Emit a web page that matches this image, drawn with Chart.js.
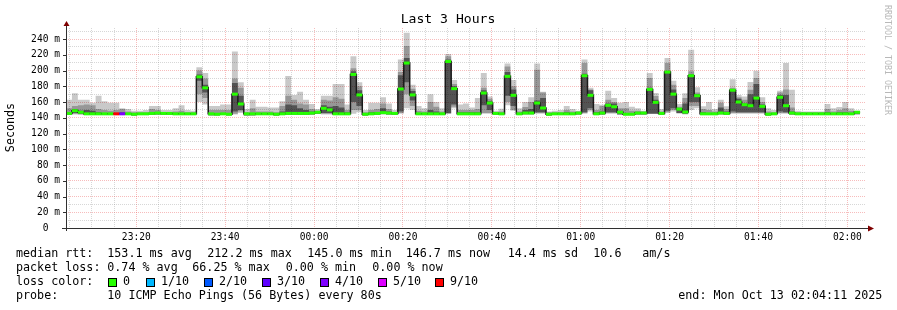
<!DOCTYPE html>
<html>
<head>
<meta charset="utf-8">
<title>Last 3 Hours</title>
<script src="https://cdn.jsdelivr.net/npm/chart.js@4.4.1/dist/chart.umd.min.js"></script>
<style>
  html, body { margin: 0; padding: 0; background: #fff; }
  canvas { display: block; }
</style>
</head>
<body>
<canvas id="smokeChart" width="897" height="310"></canvas>
<script>
// sample grid: one sample every 80 s, first at 23:04:11 (minutes from midnight)
const startMin = -(55 + 49 / 60);
const sampleMin = 80 / 60;
const spanMin = 180;

// median rtt per sample (ms)
const median = [
  145.5, 149, 147, 145, 145, 145, 145, 145, 145, 145,
  145, 144.5, 145, 145, 145.5, 146, 145.5, 145.5, 145, 145,
  145, 145, 192, 178, 145, 144.5, 145, 144.5, 170, 157.5,
  145, 145, 145, 145, 145, 144.5, 145, 145.5, 145.5, 145.5,
  145.5, 146, 147, 152, 150, 145, 145, 145, 195, 169,
  144.5, 145, 145.5, 146.5, 146, 145.5, 176.5, 209.5, 169, 145,
  145, 145, 145, 145, 211.5, 177, 145, 145, 145, 145,
  171.4, 158.7, 145.5, 145, 192.6, 168.5, 145, 146, 146, 158.7,
  152.4, 144.5, 145, 145, 145, 145, 146, 193.4, 168.5, 145,
  146, 155.8, 154, 147, 144.5, 144.5, 146, 146, 176, 159.6,
  145.5, 198, 170, 151, 147.3, 193.4, 168, 145, 145, 145,
  146, 145.5, 175, 160, 156.6, 155.3, 165, 154.5, 144.5, 145,
  166, 155.3, 146, 145, 145, 145, 145, 145, 145, 145,
  145, 145, 145, 147
];

// lost pings out of 10 per sample
const loss = [
  0, 0, 0, 0, 0, 0, 0, 0, 9, 4,
  0, 0, 0, 0, 0, 0, 0, 0, 0, 0,
  0, 0, 0, 0, 0, 0, 0, 0, 0, 0,
  0, 0, 0, 0, 0, 0, 0, 0, 0, 0,
  0, 0, 0, 0, 0, 0, 0, 0, 0, 0,
  0, 0, 0, 0, 0, 0, 0, 0, 0, 0,
  0, 0, 0, 0, 0, 0, 0, 0, 0, 0,
  0, 0, 0, 0, 0, 0, 0, 0, 0, 0,
  0, 0, 0, 0, 0, 0, 0, 0, 0, 0,
  0, 0, 0, 0, 0, 0, 0, 0, 0, 0,
  0, 0, 0, 0, 0, 0, 0, 0, 0, 0,
  0, 0, 0, 0, 0, 0, 0, 0, 0, 0,
  0, 0, 0, 0, 0, 0, 0, 0, 0, 0,
  0, 0, 0, 0
];

// smoke: outer band (min..max of the pings)
const smokeMin = [
  144, 144, 144, 144, 144, 144, 144, 144, 144, 144,
  144, 143, 144, 144, 144, 144, 144, 144, 144, 144,
  144, 144, 160, 157, 143, 143, 144, 143, 144, 146,
  143, 143, 144, 144, 144, 143, 144, 144, 144, 144,
  144, 144, 145, 144, 144, 144, 144, 144, 145, 147,
  143, 144, 144, 144, 144, 144, 145, 152, 150, 144,
  144, 144, 144, 144, 145, 152, 144, 144, 144, 144,
  145, 145, 144, 144, 156, 149, 144, 144, 144, 145,
  145, 143, 144, 144, 144, 144, 144, 145, 148, 144,
  144, 145, 145, 144, 143, 143, 144, 144, 145, 145,
  144, 146, 148, 145, 144, 150, 152, 144, 144, 144,
  144, 144, 145, 145, 145, 145, 145, 145, 143, 144,
  145, 145, 144, 144, 144, 144, 144, 144, 144, 144,
  144, 144, 144, 144
];
const smokeMax = [
  163, 171, 163, 163, 159, 168, 161, 159, 159, 152,
  151, 149, 149, 150, 155, 155, 150, 150, 152, 156,
  150, 149, 204, 197, 155, 155, 157, 157, 224, 185,
  151, 163, 154, 154, 153, 153, 161, 193, 169, 173,
  163, 157.5, 151, 168, 168, 183, 183, 157, 218, 185,
  150, 159, 159, 166, 158, 150, 214, 248, 182, 155,
  152, 170, 160, 152, 221, 188, 157, 158, 153, 165,
  197, 167, 149, 151.5, 209, 188, 152, 160, 166, 209,
  173, 148, 149, 150, 155, 151, 149, 214, 178, 157.5,
  156.6, 174.4, 165, 159, 160, 154, 152, 149, 197, 171.4,
  151, 216, 187, 157.5, 171, 226.4, 178.7, 154.5, 160, 151,
  163, 154.5, 189, 169, 167, 185.4, 199.7, 166, 152, 150,
  174.4, 209.5, 175.6, 149, 148, 148, 148, 148, 157.5, 152,
  153.6, 160, 152, 149
];

// smoke: middle band
const midLo = [
  144, 145, 144, 144, 144, 144, 144, 144, 144, 144,
  144, 143, 144, 144, 144, 144, 144, 144, 144, 144,
  144, 144, 170, 165, 144, 144, 144, 144, 145, 148,
  143, 144, 144, 144, 144, 143, 144, 144, 144, 144,
  144, 144, 145, 145, 145, 144, 144, 144, 150, 150,
  143, 144, 144, 145, 144, 144, 146, 170, 155, 144,
  144, 144, 144, 144, 145, 154, 144, 144, 144, 144,
  146, 146, 144, 144, 160, 150, 144, 144, 144, 146,
  146, 143, 144, 144, 144, 144, 144, 146, 150, 144,
  144, 146, 146, 144, 144, 144, 144, 144, 145, 145,
  144, 147, 150, 146, 145, 155, 155, 144, 144, 144,
  144, 144, 146, 146, 146, 146, 146, 146, 143, 144,
  146, 146, 144, 144, 144, 144, 144, 144, 144, 144,
  144, 144, 144, 144
];
const midHi = [
  152, 155, 156, 157, 156, 151, 150, 149, 150, 151,
  148, 147, 147, 147, 151, 150, 147, 147, 148, 149,
  147, 147, 200, 190, 150, 150, 150, 150, 190, 178,
  147, 152, 148, 148, 148, 147, 155, 168, 163, 158,
  157, 151, 149, 163, 162, 166, 164, 150, 203, 180,
  147, 150, 151, 158, 151, 147, 198, 231, 177, 149,
  148, 160, 154, 148, 218, 183, 150, 150, 150, 151,
  178, 164, 147, 148, 205, 180, 148, 153.6, 160, 201,
  172, 147, 147, 147, 150, 148, 148, 209.5, 176, 150,
  155, 163, 160, 152, 152, 149, 149, 148, 190.5, 167.6,
  148, 209.5, 182, 154, 165, 199, 172, 151, 150, 148,
  159, 151, 178, 166, 163, 175.6, 190.5, 160, 148, 147,
  172, 176, 153, 147, 147, 147, 147, 147, 151, 148,
  150, 152, 149, 148
];

// smoke: inner band around the median
const darkLo = [
  144, 146, 145, 144, 144, 144, 144, 144, 144, 144,
  144, 143, 144, 144, 144, 144, 144, 144, 144, 144,
  144, 144, 187, 172, 143, 143, 144, 143, 148, 150,
  143, 143, 144, 144, 144, 143, 144, 144, 144, 144,
  144, 144, 145, 146, 146, 144, 144, 144, 160, 155,
  143, 144, 144, 145, 144, 144, 148, 185, 162, 144,
  144, 144, 144, 144, 146, 157, 144, 144, 144, 144,
  156, 150, 144, 144, 168, 155, 144, 145, 145, 147,
  147, 143, 144, 144, 144, 144, 144, 147, 152, 144,
  144, 147, 147, 144, 144, 144, 144, 144, 145, 145,
  144, 149, 152, 146, 145, 160, 160, 144, 144, 144,
  145, 144, 148, 147, 147, 147, 147, 147, 143, 144,
  148, 147, 144, 144, 144, 144, 144, 144, 144, 144,
  144, 144, 144, 145
];
const darkHi = [
  147, 151, 149, 150, 149, 147, 146, 146, 146, 147,
  146, 145.5, 146, 146, 147, 147, 146, 146, 146, 146,
  146, 146, 195, 182, 146, 146, 146, 146, 184, 168,
  146, 146, 146, 146, 146, 145.5, 148, 157, 156, 152,
  150, 148, 148, 156, 154, 155, 153, 147, 199, 175,
  145.5, 147, 147, 152, 148, 147, 194, 216, 174, 146,
  146, 150, 148, 146, 214, 180, 147, 147, 147, 147,
  175, 161, 147, 146, 198, 176, 146, 150, 151, 162,
  165, 145.5, 146, 146, 147, 146, 147, 196, 175, 147,
  148, 158, 158, 149, 146, 146, 147, 147, 178, 163,
  146, 199, 176, 152.5, 158, 195, 170, 147, 146, 146,
  153, 148, 176, 164, 158, 170, 183, 157, 145.5, 146,
  169, 169, 148, 146, 146, 146, 146, 146, 147, 146,
  147, 147, 146, 148
];

// axis ticks
const timeTicks = [-40, -20, 0, 20, 40, 60, 80, 100, 120];
const timeLabels = ['23:20', '23:40', '00:00', '00:20', '00:40', '01:00', '01:20', '01:40', '02:00'];
const rttTicks = [0, 20, 40, 60, 80, 100, 120, 140, 160, 180, 200, 220, 240];
const rttLabels = ['0  ', '20 m', '40 m', '60 m', '80 m', '100 m', '120 m', '140 m', '160 m', '180 m', '200 m', '220 m', '240 m'];

const lossColors = ['#26ff00', '#00b8ff', '#0059ff', '#5e00ff', '#7e00ff', '#dd00ff', '#ff0000'];
const lossNames = ['0', '1/10', '2/10', '3/10', '4/10', '5/10', '9/10'];

const mono = '"DejaVu Sans Mono", monospace';
const minorGrid = 'rgba(140,140,140,0.35)';
const majorGrid = 'rgba(235,80,80,0.38)';

function lossColor(n) {
  return lossColors[n >= 6 ? 6 : n];
}

// each sample is a flat step
function stepPoints(values) {
  const pts = [];
  values.forEach((v, i) => {
    pts.push({ x: startMin + i * sampleMin, y: v });
    pts.push({ x: startMin + (i + 1) * sampleMin, y: v });
  });
  return pts;
}

// same, but broken after every sample so each can take its own loss colour
function bandPoints(values) {
  const pts = [];
  values.forEach((v, i) => {
    pts.push({ x: startMin + i * sampleMin, y: v });
    pts.push({ x: startMin + (i + 1) * sampleMin, y: v });
    pts.push({ x: startMin + (i + 1) * sampleMin, y: null });
  });
  return pts;
}

function smokeLayer(lo, hi, color, order) {
  return [
    { data: stepPoints(lo), borderColor: 'transparent', borderWidth: 0, pointRadius: 0, fill: false, order: order },
    { data: stepPoints(hi), borderColor: 'transparent', borderWidth: 0, pointRadius: 0, fill: '-1', backgroundColor: color, order: order }
  ];
}

function clock(m) {
  const k = timeTicks.indexOf(m);
  return k < 0 ? '' : timeLabels[k];
}

const xGrid = [];
for (let m = -55; m <= 120; m += 5) xGrid.push(m);
const yGrid = [];
for (let v = 0; v <= 250; v += 10) yGrid.push(v);

// rrdtool frame, texts and legend
const rrdDecor = {
  id: 'rrdDecor',
  afterDraw(chart) {
    const c = chart.ctx;
    const a = chart.chartArea;
    c.save();

    // axes
    c.strokeStyle = '#303030';
    c.lineWidth = 1;
    c.beginPath();
    c.moveTo(a.left + 0.5, a.bottom + 3);
    c.lineTo(a.left + 0.5, a.top - 3);
    c.moveTo(a.left - 4, a.bottom + 0.5);
    c.lineTo(a.right + 2, a.bottom + 0.5);
    rttTicks.forEach(v => {
      const y = Math.round(chart.scales.y.getPixelForValue(v)) + 0.5;
      c.moveTo(a.left - 3, y);
      c.lineTo(a.left, y);
    });
    c.stroke();

    // arrows
    c.fillStyle = '#7f0000';
    c.beginPath();
    c.moveTo(a.left + 0.5, a.top - 7);
    c.lineTo(a.left - 2.5, a.top - 2);
    c.lineTo(a.left + 3.5, a.top - 2);
    c.closePath();
    c.fill();
    c.beginPath();
    c.moveTo(a.right + 8, a.bottom + 0.5);
    c.lineTo(a.right + 2, a.bottom - 2.5);
    c.lineTo(a.right + 2, a.bottom + 3.5);
    c.closePath();
    c.fill();

    c.fillStyle = '#000';
    c.textBaseline = 'middle';

    // title
    c.font = '13.1px ' + mono;
    c.textAlign = 'center';
    c.fillText('Last 3 Hours', 448, 20);

    // y axis title
    c.font = '11.7px ' + mono;
    c.save();
    c.translate(11, 127.5);
    c.rotate(-Math.PI / 2);
    c.fillText('Seconds', 0, 0);
    c.restore();

    // watermark
    c.save();
    c.font = '8.3px ' + mono;
    c.fillStyle = '#b8b8b8';
    c.textAlign = 'left';
    c.translate(887, 5);
    c.rotate(Math.PI / 2);
    c.fillText('RRDTOOL / TOBI OETIKER', 0, 0);
    c.restore();

    // legend
    c.textAlign = 'left';
    c.font = '11.7px ' + mono;
    const rows = [
      [254, [[16, 'median rtt:'], [107.3, '153.1 ms avg'], [207.3, '212.2 ms max'], [307.3, '145.0 ms min'],
             [405.7, '146.7 ms now'], [507.7, '14.4 ms sd'], [593.3, '10.6'], [642.3, 'am/s']]],
      [268, [[16, 'packet loss:'], [107.3, '0.74 % avg'], [192.3, '66.25 % max'], [285.7, '0.00 % min'], [372.3, '0.00 % now']]],
      [282, [[16, 'loss color:']]],
      [296, [[16, 'probe:'], [107.3, '10 ICMP Echo Pings (56 Bytes) every 80s'], [678.3, 'end: Mon Oct 13 02:04:11 2025']]]
    ];
    rows.forEach(([y, parts]) => parts.forEach(([x, t]) => c.fillText(t, x, y)));

    const boxX = [108, 146, 204, 262, 320, 378, 435];
    boxX.forEach((x, i) => {
      c.fillStyle = lossColors[i];
      c.fillRect(x, 278, 8, 8);
      c.strokeStyle = '#000';
      c.strokeRect(x + 0.5, 278.5, 8, 8);
      c.fillStyle = '#000';
      c.fillText(lossNames[i], x + 15, 282);
    });

    c.restore();
  }
};

const ctx = document.getElementById('smokeChart').getContext('2d');

const smokeChart = new Chart(ctx, {
  type: 'line',
  data: {
    datasets: [
      {
        data: bandPoints(median),
        borderColor: lossColors[0],
        borderWidth: 3,
        borderCapStyle: 'butt',
        pointRadius: 0,
        fill: false,
        spanGaps: false,
        order: 0,
        segment: { borderColor: s => lossColor(loss[Math.floor(s.p0DataIndex / 3)]) }
      },
      { data: stepPoints(median), borderColor: '#1a1a1a', borderWidth: 1.5, pointRadius: 0, fill: false, order: 1 },
      ...smokeLayer(smokeMin, smokeMax, 'rgba(0,0,0,0.21)', 4),
      ...smokeLayer(midLo, midHi, 'rgba(0,0,0,0.25)', 3),
      ...smokeLayer(darkLo, darkHi, 'rgba(0,0,0,0.45)', 2)
    ]
  },
  options: {
    responsive: false,
    maintainAspectRatio: false,
    animation: false,
    events: [],
    layout: { padding: { left: 0, top: 28, right: 31, bottom: 0 } },
    elements: { line: { tension: 0 } },
    plugins: {
      legend: { display: false },
      tooltip: { enabled: false },
      title: { display: false }
    },
    scales: {
      x: {
        type: 'linear',
        min: startMin,
        max: startMin + spanMin,
        afterFit: s => { s.height = 82; },
        afterBuildTicks: s => { s.ticks = xGrid.map(v => ({ value: v })); },
        ticks: {
          autoSkip: false,
          maxRotation: 0,
          padding: 4,
          color: '#000',
          font: { family: mono, size: 9.6 },
          callback: v => clock(v)
        },
        grid: {
          drawTicks: false,
          lineWidth: 1,
          color: g => (g.tick && g.tick.value % 20 === 0) ? majorGrid : minorGrid
        },
        border: { display: false, dash: [1, 1] }
      },
      y: {
        min: 0,
        max: 254,
        afterFit: s => { s.width = 66; },
        afterBuildTicks: s => { s.ticks = yGrid.map(v => ({ value: v })); },
        ticks: {
          autoSkip: false,
          padding: 6,
          color: '#000',
          font: { family: mono, size: 9.6 },
          callback: v => {
            const k = rttTicks.indexOf(v);
            return k < 0 ? '' : rttLabels[k];
          }
        },
        grid: {
          drawTicks: false,
          lineWidth: 1,
          color: g => (g.tick && g.tick.value % 20 === 0) ? majorGrid : minorGrid
        },
        border: { display: false, dash: [1, 1] }
      }
    }
  },
  plugins: [rrdDecor]
});
</script>
</body>
</html>
